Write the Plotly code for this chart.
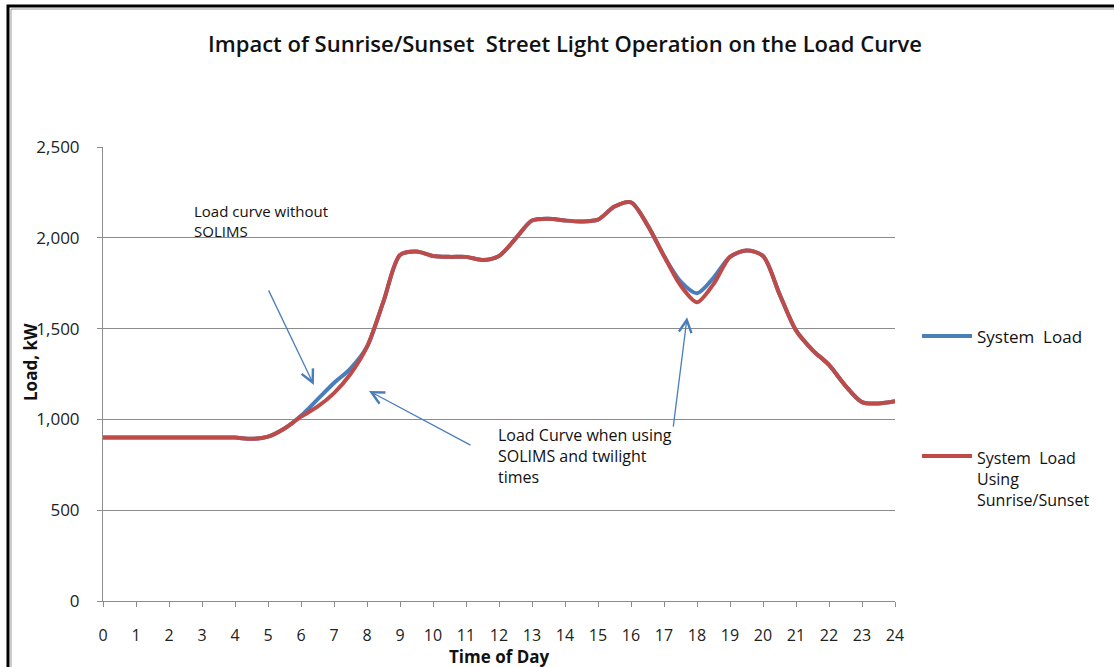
import plotly.graph_objects as go

# half-hourly time of day
hours = [h / 2 for h in range(49)]

system_load = [
    900, 900, 900, 900, 900, 900, 900, 900, 900, 893,
    905, 950, 1020, 1110, 1200, 1280, 1400, 1650, 1905, 1925,
    1900, 1895, 1895, 1878, 1900, 1995, 2095, 2105, 2095, 2090,
    2100, 2172, 2195, 2070, 1900, 1760, 1695, 1780, 1895, 1930,
    1900, 1690, 1490, 1382, 1300, 1185, 1095, 1088, 1100,
]

sunrise_sunset_load = [
    900, 900, 900, 900, 900, 900, 900, 900, 900, 893,
    905, 950, 1015, 1070, 1145, 1250, 1400, 1650, 1905, 1925,
    1900, 1895, 1895, 1878, 1900, 1995, 2095, 2105, 2095, 2090,
    2100, 2172, 2195, 2070, 1900, 1738, 1645, 1745, 1895, 1930,
    1900, 1690, 1490, 1382, 1300, 1185, 1095, 1088, 1100,
]

x_ticks = list(range(25))
y_ticks = [0, 500, 1000, 1500, 2000, 2500]
y_tick_labels = ["0", "500", "1,000", "1,500", "2,000", "2,500"]

BLUE = "#4a7ebb"
RED = "#be4b48"
GRID = "#8c8c8c"
FONT = "Open Sans"

# plot area in pixels: x 103..895, y 147..601
L, R, T, B = 103, 895, 147, 601
W, H = 1114, 667


def px(x):
    return (x - L) / (R - L)


def py(y):
    return (B - y) / (B - T)


fig = go.Figure()
fig.add_trace(go.Scatter(
    x=hours, y=system_load, mode="lines", name="System Load",
    line=dict(color=BLUE, width=4, shape="spline", smoothing=0.8),
    showlegend=False,
))
fig.add_trace(go.Scatter(
    x=hours, y=sunrise_sunset_load, mode="lines",
    name="System Load Using Sunrise/Sunset",
    line=dict(color=RED, width=4, shape="spline", smoothing=0.8),
    showlegend=False,
))

fig.update_xaxes(
    range=[0, 24], tickvals=x_ticks, ticks="outside", ticklen=5,
    tickcolor=GRID, showline=True, linecolor=GRID, showgrid=False,
    tickfont=dict(family=FONT, size=16, color="#222"),
    ticklabelstandoff=15, zeroline=False,
)
fig.update_yaxes(
    range=[0, 2500], tickvals=y_ticks, ticktext=y_tick_labels,
    ticks="outside", ticklen=5, tickcolor=GRID, showline=True,
    linecolor=GRID, showgrid=True, gridcolor=GRID, gridwidth=1,
    tickfont=dict(family=FONT, size=17, color="#222"),
    ticklabelstandoff=14, zeroline=False,
)

annotations = [
    dict(x=px(565), y=py(43), text="Impact of Sunrise/Sunset  Street Light Operation on the Load Curve",
         font=dict(size=22, color="#111", weight=600), xanchor="center", yanchor="middle"),
    dict(x=px(499), y=py(656), text="<b>Time of Day</b>",
         font=dict(size=17, color="#111"), xanchor="center", yanchor="middle"),
    dict(x=px(30), y=py(362), text="<b>Load, kW</b>", textangle=-90,
         font=dict(size=17, color="#111"), xanchor="center", yanchor="middle"),
    dict(x=px(192), y=py(221), text="Load curve without<br>SOLIMS", align="left",
         font=dict(size=15, color="#111"), xanchor="left", yanchor="middle"),
    dict(x=px(496), y=py(456), text="Load Curve when using<br>SOLIMS and twilight<br>times", align="left",
         font=dict(size=16, color="#111"), xanchor="left", yanchor="middle"),
    dict(x=px(975), y=py(336), text="System  Load", align="left",
         font=dict(size=17, color="#111"), xanchor="left", yanchor="middle"),
    dict(x=px(975), y=py(479), text="System  Load<br>Using<br>Sunrise/Sunset", align="left",
         font=dict(size=16, color="#111"), xanchor="left", yanchor="middle"),
]
for a in annotations:
    a.update(xref="paper", yref="paper", showarrow=False)
    a["font"]["family"] = FONT

# pointer arrows (head in data coords, tail offset in pixels)
arrows = [
    (6.39, 1190, -46, -96),
    (8.06, 1157, 103, 55),
    (17.7, 1563, -14, 111),
]
for hx, hy, ax, ay in arrows:
    annotations.append(dict(
        x=hx, y=hy, xref="x", yref="y", ax=ax, ay=ay, text="",
        showarrow=True, arrowhead=5, arrowsize=1.9, arrowwidth=1.3,
        arrowcolor=BLUE,
    ))

shapes = [
    # legend line samples
    dict(type="line", xref="paper", yref="paper", x0=px(922), x1=px(972),
         y0=py(336), y1=py(336), line=dict(color=BLUE, width=4)),
    dict(type="line", xref="paper", yref="paper", x0=px(922), x1=px(972),
         y0=py(456), y1=py(456), line=dict(color=RED, width=4)),
    # outer frame (left and top edges)
    dict(type="path", xref="paper", yref="paper",
         path=f"M{px(8)},{py(H)} L{px(8)},{py(6)} L{px(W)},{py(6)}",
         line=dict(color="#000", width=3)),
    dict(type="path", xref="paper", yref="paper",
         path=f"M{px(11)},{py(H)} L{px(11)},{py(9)} L{px(W)},{py(9)}",
         line=dict(color="#9a9a9a", width=1)),
]

fig.update_layout(
    width=W, height=H,
    margin=dict(l=L, r=W - R, t=T, b=H - B),
    paper_bgcolor="white", plot_bgcolor="white",
    font=dict(family=FONT),
    showlegend=False,
    annotations=annotations,
    shapes=shapes,
)

fig.write_html(
    "out.html",
    config={"displayModeBar": False},
    post_script="document.body.style.margin='0';document.body.style.overflow='hidden';",
)
